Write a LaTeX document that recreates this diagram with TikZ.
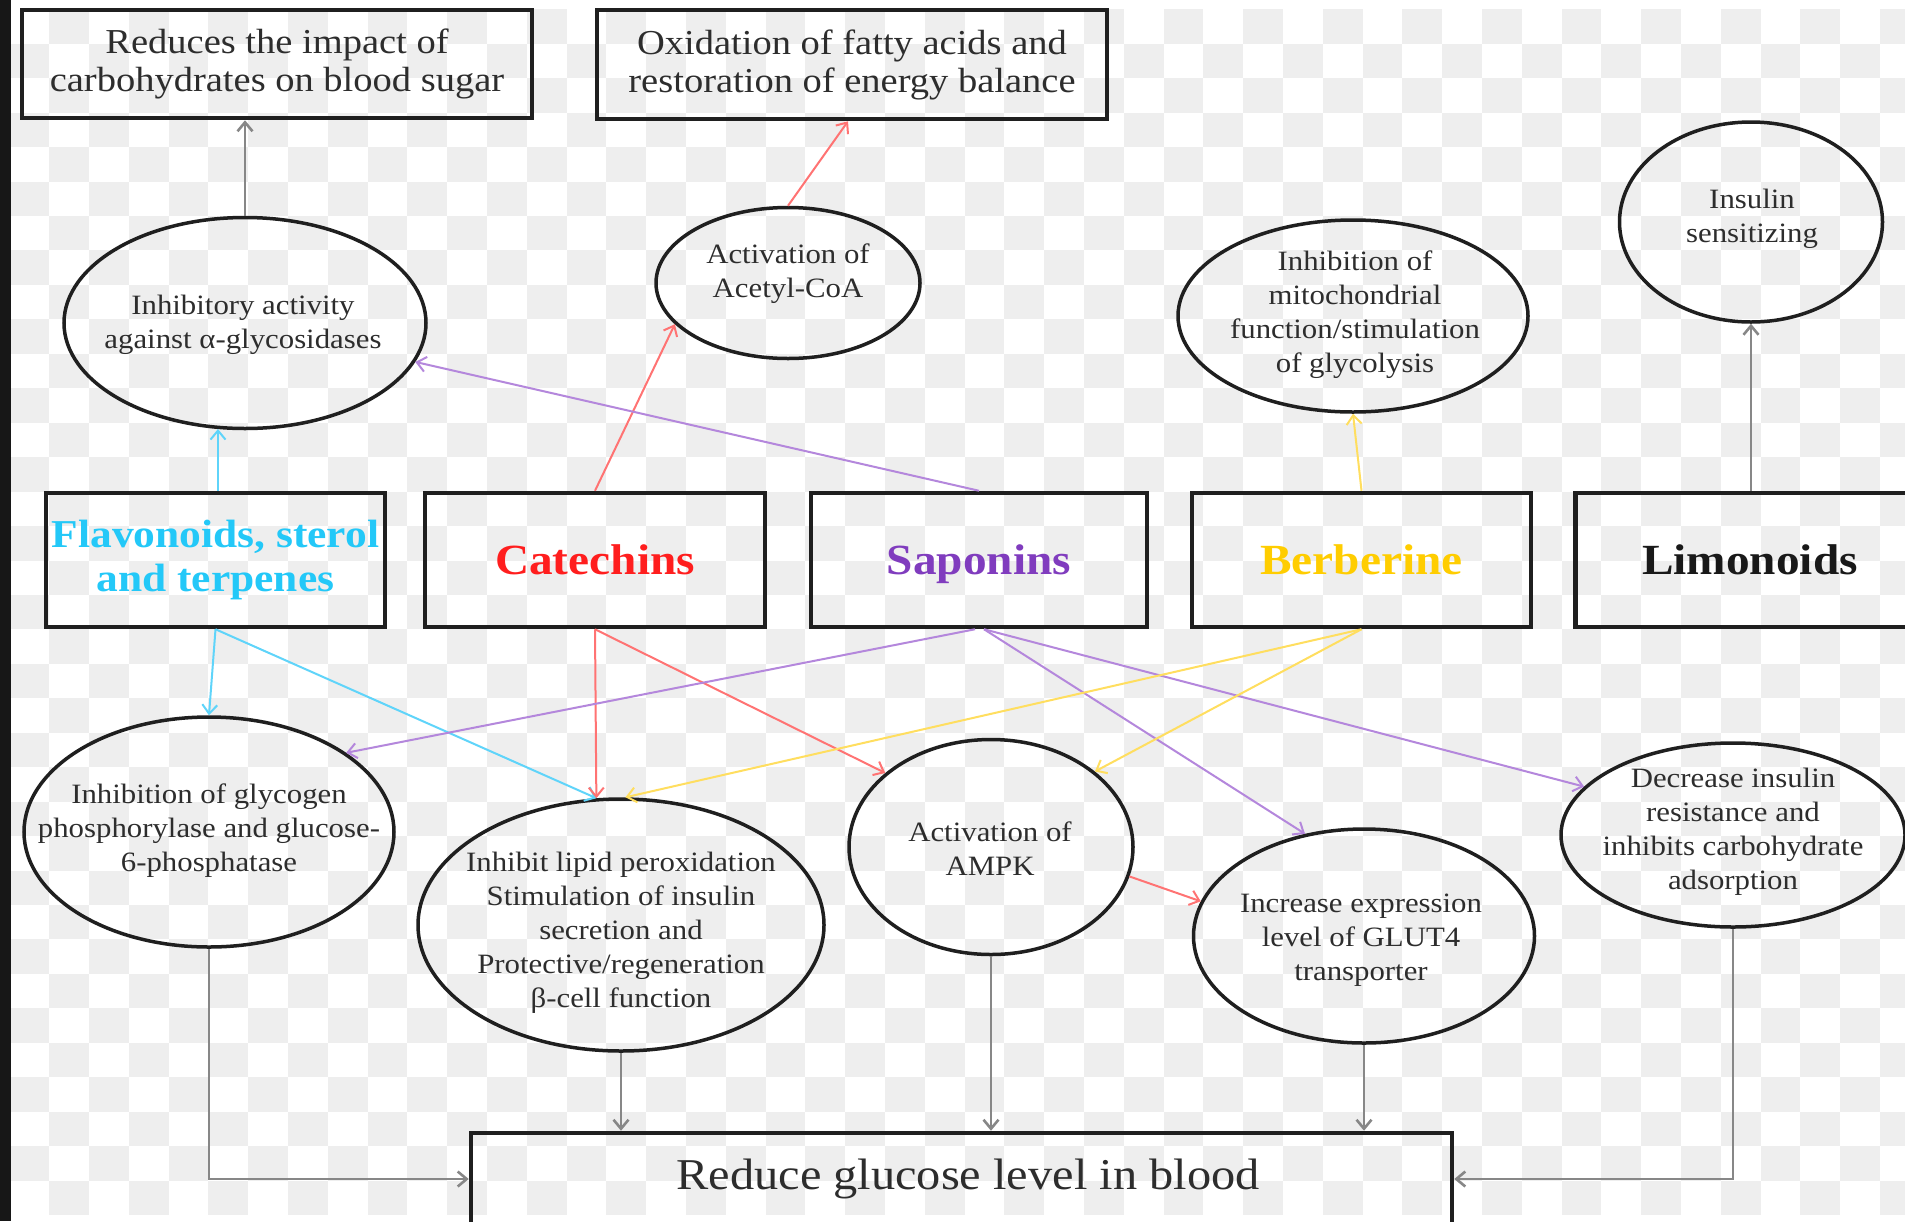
\documentclass[tikz,border=0pt]{standalone}
\usepackage{fontspec}
\setmainfont{Liberation Serif}[FakeStretch=1.1]
\usetikzlibrary{shapes.geometric,arrows.meta,calc}
\definecolor{checkgray}{RGB}{238,238,238}
\definecolor{txtgray}{RGB}{45,45,45}
\definecolor{cyanT}{RGB}{35,200,248}
\definecolor{cyanL}{RGB}{95,212,250}
\definecolor{redT}{RGB}{255,30,30}
\definecolor{redL}{RGB}{255,115,115}
\definecolor{purT}{RGB}{128,60,190}
\definecolor{purL}{RGB}{180,135,220}
\definecolor{yelT}{RGB}{255,205,0}
\definecolor{yelL}{RGB}{255,222,95}
\definecolor{lgray}{RGB}{135,135,135}
\begin{document}
\begin{tikzpicture}[x=1pt,y=-1pt,
  box/.style={draw=black!88, line width=4.5pt, rectangle, inner sep=0pt},
  ell/.style={draw=black!88, line width=3.5pt, ellipse, inner sep=0pt},
  etext/.style={text=txtgray, align=center, inner sep=0pt, font=\fontsize{28}{34}\selectfont},
  ttext/.style={text=txtgray, align=center, font=\fontsize{35}{38}\selectfont},
  ltext/.style={align=center, font=\bfseries\fontsize{43}{44}\selectfont},
  conn/.style={line width=2pt, -{Straight Barb[length=9pt,width=15pt]}},
  gconn/.style={line width=2.6pt, draw=lgray, -{Straight Barb[length=9pt,width=15pt]}},
]
\useasboundingbox (0,0) rectangle (1905,1221);
\clip (0,0) rectangle (1905,1221);
% checkerboard background
\fill[white] (0,0) rectangle (1905,1221);
\foreach \i in {0,...,47}{\foreach \j in {0,...,34}{%
  \pgfmathtruncatemacro{\chk}{mod(\i+\j,2)}%
  \ifnum\chk=1 \fill[checkgray] ({9.4+39.8*\i},{9.3+34.45*\j}) rectangle +(39.8,34.45);\fi}}
\fill[black!91] (0,0) rectangle (11,1221);

% top boxes
\node[box, ttext, minimum width=510pt, minimum height=108pt] (box1) at (277,64)
  {Reduces the impact of\\carbohydrates on blood sugar};
\node[box, ttext, minimum width=510pt, minimum height=109pt] (box2) at (852,64.5)
  {Oxidation of fatty acids and\\restoration of energy balance};

% upper ellipses
\node[ell, minimum width=362pt, minimum height=211pt] (inhib) at (245,323) {};
\node[etext] (inhibT) at (243,325) {Inhibitory activity\\against α-glycosidases};
\node[ell, minimum width=264pt, minimum height=151pt] (acetyl) at (788,283) {};
\node[etext] (acetylT) at (788,274) {Activation of\\Acetyl-CoA};
\node[ell, minimum width=350pt, minimum height=192pt] (mito) at (1353,316) {};
\node[etext] (mitoT) at (1355,315) {Inhibition of\\mitochondrial\\function/stimulation\\of glycolysis};
\node[ell, minimum width=263pt, minimum height=200pt] (insulin) at (1751,222) {};
\node[etext] (insulinT) at (1752,219) {Insulin\\sensitizing};

% compound boxes
\node[box, ltext, font=\bfseries\fontsize{39.5}{44}\selectfont, text=cyanT, minimum width=339pt, minimum height=134pt] (flav) at (215.5,560) {Flavonoids, sterol\\and terpenes};
\node[box, ltext, text=redT, minimum width=340pt, minimum height=134pt] (cat) at (595,560) {Catechins};
\node[box, ltext, text=purT, text depth=0pt, minimum width=336pt, minimum height=134pt] (sap) at (979,560) {Saponins};
\node[box, ltext, text=yelT, minimum width=339pt, minimum height=134pt] (berb) at (1361.5,560) {Berberine};
\node[box, ltext, text=black!90, minimum width=349pt, minimum height=134pt] (lim) at (1750,560) {Limonoids};

% lower ellipses
\node[ell, minimum width=370pt, minimum height=230pt] (glyco) at (209,832) {};
\node[etext] (glycoT) at (209,831) {Inhibition of glycogen\\phosphorylase and glucose-\\6-phosphatase};
\node[ell, minimum width=406pt, minimum height=252pt] (lipid) at (621,925) {};
\node[etext] (lipidT) at (621,933) {Inhibit lipid peroxidation\\Stimulation of insulin\\secretion and\\Protective/regeneration\\β-cell function};
\node[ell, minimum width=284pt, minimum height=215pt] (ampk) at (991,847) {};
\node[etext] (ampkT) at (990,849) {Activation of\\AMPK};
\node[ell, minimum width=341pt, minimum height=214pt] (glut) at (1364,936) {};
\node[etext] (glutT) at (1361,940) {Increase expression\\level of GLUT4\\transporter};
\node[ell, minimum width=344pt, minimum height=184pt] (decr) at (1733,835) {};
\node[etext] (decrT) at (1733,832) {Decrease insulin\\resistance and\\inhibits carbohydrate\\adsorption};

% goal box
\node[box, minimum width=981pt, minimum height=92pt] (goal) at (961.5,1179) {};
\node[text=txtgray, font=\fontsize{44}{46}\selectfont] (goalT) at (968,1179) {Reduce glucose level in blood};

% connectors: upward
\draw[gconn] (inhib.north) -- (inhib.north |- box1.south);
\draw[conn, draw=redL] (acetyl.north) -- ($(box2.south)+(-4,0)$);
\draw[conn, draw=cyanL] (flav.north -| 218,0) -- (218,429);
\draw[conn, draw=redL] (cat.north) -- (acetyl.200);
\draw[conn, draw=purL] (sap.north) -- (inhib);
\draw[conn, draw=yelL] (berb.north) -- (mito.south);
\draw[gconn] (lim.north -| insulin.south) -- (insulin.south);

% connectors: downward
\draw[conn, draw=cyanL] (flav.south) -- (glyco.north);
\draw[conn, draw=cyanL] (flav.south) -- (lipid.101);
\draw[conn, draw=redL] (cat.south) -- (lipid.101);
\draw[conn, draw=redL] (cat.south) -- (ampk.145);
\draw[conn, draw=purL] ($(sap.south)+(-4,0)$) -- (glyco.30);
\draw[conn, draw=purL] ($(sap.south)+(5,0)$) -- (glut.120);
\draw[conn, draw=purL] ($(sap.south)+(5,0)$) -- (decr.162);
\draw[conn, draw=yelL] (berb.south) -- (lipid.88);
\draw[conn, draw=yelL] (berb.south) -- (ampk.36);
\draw[conn, draw=redL] (ampk.-12) -- (glut.168);

% connectors to goal
\draw[gconn] (glyco.south) |- (goal.west);
\draw[gconn] (decr.south) |- (goal.east);
\draw[gconn] (lipid.south) -- (lipid.south |- goal.north);
\draw[gconn] (ampk.south) -- (ampk.south |- goal.north);
\draw[gconn] (glut.south) -- (glut.south |- goal.north);
\end{tikzpicture}
\end{document}
